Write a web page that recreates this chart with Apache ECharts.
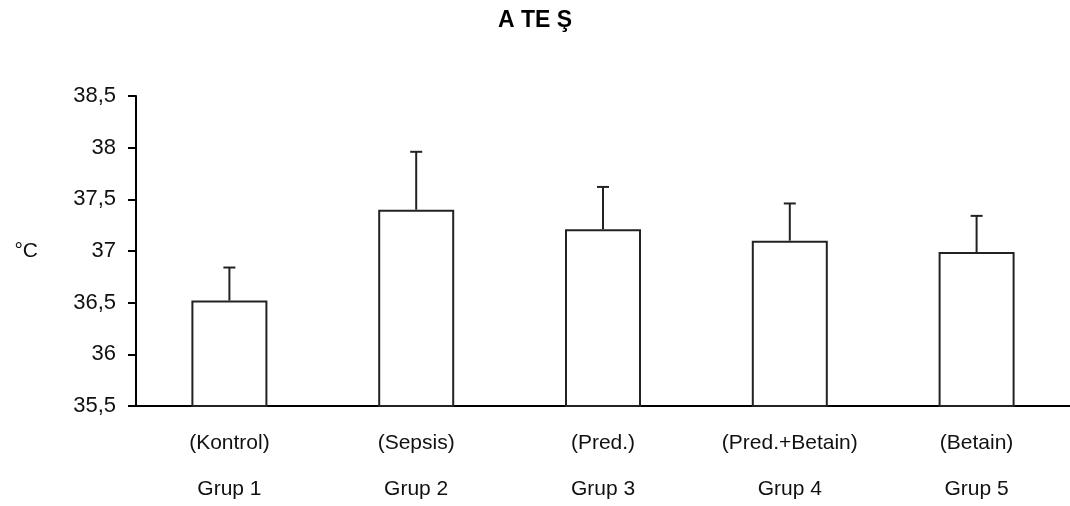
<!DOCTYPE html>
<html>
<head>
<meta charset="utf-8">
<script src="https://cdn.jsdelivr.net/npm/echarts@6/dist/echarts.min.js"></script>
<style>
html,body{margin:0;padding:0;background:#fff;}
#chart{width:1070px;height:506px;}
</style>
</head>
<body>
<div id="chart"></div>
<script>
const titleText = 'A TE Ş';
const groups = ['Grup 1', 'Grup 2', 'Grup 3', 'Grup 4', 'Grup 5'];
const treatments = ['(Kontrol)', '(Sepsis)', '(Pred.)', '(Pred.+Betain)', '(Betain)'];
const means = [36.52, 37.40, 37.21, 37.10, 36.99];
const errorTops = [36.84, 37.96, 37.62, 37.46, 37.34];
const yTicks = [35.5, 36, 36.5, 37, 37.5, 38, 38.5];

const FONT = '"Liberation Sans", Arial, sans-serif';
const chart = echarts.init(document.getElementById('chart'), null, {renderer: 'canvas'});

chart.setOption({
  backgroundColor: '#ffffff',
  animation: false,
  title: {
    text: titleText,
    left: 'center',
    top: 4,
    textStyle: {fontFamily: FONT, fontSize: 23, fontWeight: 'bold', color: '#000'}
  },
  grid: {left: 136, right: 0, top: 96, bottom: 100},
  xAxis: {
    type: 'category',
    data: groups,
    axisLine: {lineStyle: {color: '#000', width: 2}},
    axisTick: {show: false},
    axisLabel: {
      margin: 14,
      interval: 0,
      formatter: function (v, i) {
        return '{a|' + treatments[i] + '}\n{b|' + v + '}';
      },
      rich: {
        a: {fontFamily: FONT, fontSize: 21, color: '#111', lineHeight: 46},
        b: {fontFamily: FONT, fontSize: 21, color: '#111', lineHeight: 46}
      }
    }
  },
  yAxis: {
    type: 'value',
    min: yTicks[0],
    max: yTicks[yTicks.length - 1],
    interval: 0.5,
    name: '°C',
    nameLocation: 'middle',
    nameRotate: 0,
    nameGap: 98,
    nameTextStyle: {fontFamily: FONT, fontSize: 21, color: '#111'},
    axisLine: {show: true, lineStyle: {color: '#000', width: 2}},
    axisTick: {show: true, length: 8, lineStyle: {color: '#000', width: 2}},
    splitLine: {show: false},
    axisLabel: {
      margin: 20,
      fontFamily: FONT,
      fontSize: 22,
      color: '#111',
      formatter: function (v) { return String(v).replace('.', ','); }
    }
  },
  series: [
    {
      type: 'bar',
      data: means,
      barWidth: 76,
      itemStyle: {color: '#ffffff', borderColor: '#222', borderWidth: 2},
      z: 2
    },
    {
      type: 'custom',
      data: means.map(function (m, i) { return [i, m, errorTops[i]]; }),
      z: 3,
      renderItem: function (params, api) {
        const x = api.coord([api.value(0), api.value(1)])[0];
        const y0 = api.coord([api.value(0), api.value(1)])[1];
        const y1 = api.coord([api.value(0), api.value(2)])[1];
        const style = {stroke: '#222', lineWidth: 2, fill: null};
        return {
          type: 'group',
          children: [
            {type: 'line', shape: {x1: x, y1: y0, x2: x, y2: y1}, style: style},
            {type: 'line', shape: {x1: x - 6, y1: y1, x2: x + 6, y2: y1}, style: style}
          ]
        };
      }
    }
  ]
});
</script>
</body>
</html>
